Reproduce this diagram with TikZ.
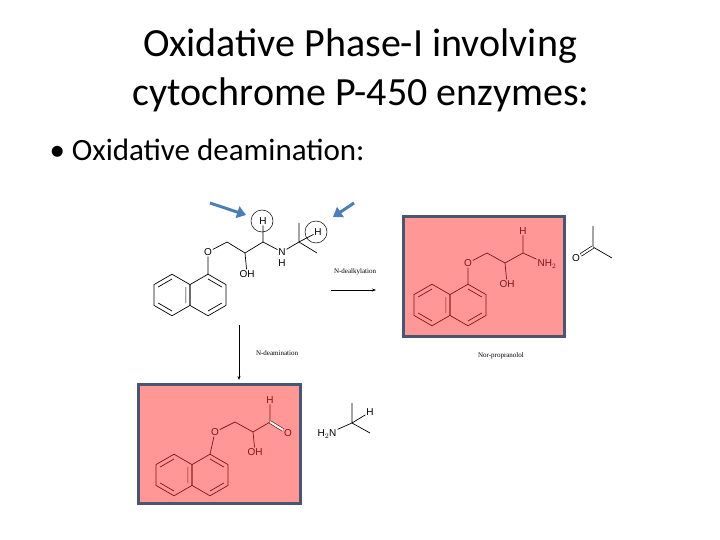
\documentclass[tikz,border=0pt]{standalone}
\usepackage{fontspec}
\setmainfont{Carlito}
\newfontfamily\molfont{Liberation Sans}
\newfontfamily\labfont{Liberation Serif}
\usetikzlibrary{arrows.meta}
\definecolor{boxfill}{HTML}{FF9797}
\definecolor{boxline}{HTML}{475772}
\definecolor{arrblue}{HTML}{4A7EBB}
\definecolor{molred}{HTML}{7A1818}
\newcommand\naph[3]{%
 \foreach \c in {-18,18}{%
  \draw[bond,shift={({#2+\c},{#3})}] (90:20.8)--(30:20.8)--(-30:20.8)--(-90:20.8)--(-150:20.8)--(150:20.8)--cycle;}
 \draw[bond,shift={({#2-18},{#3})}] (90:16)--(150:16) (-30:16)--(30:16) (-90:16)--(-150:16);
 \draw[bond,shift={({#2+18},{#3})}] (90:16)--(30:16) (-90:16)--(-30:16);
 \coordinate (#1) at ({#2+18},{#3-20.8});}
\begin{document}
\begin{tikzpicture}[x=1pt,y=-1pt,
 bond/.style={line width=0.7pt},
 atom/.style={font=\molfont\fontsize{10}{10}\selectfont,inner sep=0.8pt},
 lab/.style={font=\labfont\fontsize{7}{7}\selectfont,inner sep=0pt},
 pbox/.style={draw=boxline,fill=boxfill,line width=3pt},
 ring/.style={draw,circle,minimum size=22pt,inner sep=0pt,line width=0.5pt},
 barrow/.style={draw=arrblue,line width=3pt,-{Triangle[length=9pt,width=12pt]}}]
\useasboundingbox (0,0) rectangle (720,540);
\node[font=\fontsize{40}{40}\selectfont] (t1) at (360,46) {Oxidative Phase-I involving};
\node[font=\fontsize{40}{40}\selectfont] (t2) at (361,95) {cytochrome P-450 enzymes:};
\node[font=\fontsize{31}{31}\selectfont,anchor=west] (b1) at (46,150) {\textbullet\ Oxidative deamination:};
% molecule 1: propranolol
\naph{r1}{190}{295}
\node[atom] (o1) at (208,252) {O};
\coordinate (c1) at (227,242);
\coordinate (c2) at (245,253);
\node[atom] (oh1) at (247,274) {OH};
\coordinate (c3) at (263,242);
\node[atom] (h1) at (263,221) {H};
\node[atom,align=center] (n1) at (282,252) {N};
\node[atom] (nh1) at (282,263) {H};
\coordinate (c4) at (299,242);
\coordinate (m1) at (299,223);
\coordinate (m2) at (317,253);
\node[atom] (h2) at (318,232) {H};
\draw[bond] (r1)--(o1)--(c1)--(c2)--(c3)--(n1)--(c4)--(m1) (c4)--(m2) (c4)--(h2) (c2)--(oh1) (c3)--(h1);
\node[ring] (rc1) at (262,221) {};
\node[ring] (rc2) at (316,232) {};
\draw[barrow] (210,203)--(246,215);
\draw[barrow] (354,203)--(333,217);
% N-dealkylation
\node[lab] (l1) at (355,272) {N-dealkylation};
\coordinate (a1s) at (331,290); \coordinate (a1e) at (376,290);
\draw[-{Stealth[length=4pt]},line width=0.6pt] (a1s)--(a1e);
% product 1
\node[pbox,minimum width=161pt,minimum height=119pt] (box1) at (483.5,276.5) {};
\begin{scope}[molred,every node/.append style={text=molred}]
\naph{r2}{450}{305}
\node[atom] (o2) at (468,263) {O};
\coordinate (d1) at (487,253);
\coordinate (d2) at (505,263);
\node[atom] (oh2) at (507,284) {OH};
\coordinate (d3) at (523,253);
\node[atom] (h3) at (523,231) {H};
\node[atom] (nh2) at (547,264) {NH$_2$};
\draw[bond] (r2)--(o2)--(d1)--(d2)--(d3)--(nh2) (d2)--(oh2) (d3)--(h3);
\end{scope}
% acetone
\coordinate (k1) at (593,247);
\coordinate (k2) at (593,226);
\coordinate (k3) at (612,258);
\node[atom] (ko) at (576,258) {O};
\draw[bond] (k1)--(k2) (k1)--(k3);
\draw[bond,double,double distance=2pt] (k1)--(ko);
\node[lab] (l2) at (501,356) {Nor-propranolol};
% N-deamination
\coordinate (a2s) at (239,325); \coordinate (a2e) at (239,380);
\draw[-{Stealth[length=4pt]},line width=0.6pt] (a2s)--(a2e);
\node[lab] (l3) at (277,353) {N-deamination};
% product 2
\node[pbox,minimum width=162pt,minimum height=119pt] (box2) at (219.5,444) {};
\begin{scope}[molred,every node/.append style={text=molred}]
\naph{r3}{192}{475}
\node[atom] (o3) at (215,432) {O};
\coordinate (e1) at (235,422);
\coordinate (e2) at (253,432);
\node[atom] (oh3) at (255,452) {OH};
\coordinate (e3) at (270,422);
\node[atom] (h4) at (270,400) {H};
\node[atom] (o4) at (288,433) {O};
\draw[bond] (r3)--(o3)--(e1)--(e2)--(e3) (e2)--(oh3) (e3)--(h4);
\draw[bond,double,double distance=2pt] (e3)--(o4);
\end{scope}
% amine
\coordinate (f1) at (352,423);
\coordinate (f2) at (352,403);
\coordinate (f3) at (370,433);
\node[atom] (fh) at (370,412) {H};
\node[atom] (fn) at (327,434) {H$_2$N};
\draw[bond] (fn)--(f1)--(f2) (f1)--(f3) (f1)--(fh);
\end{tikzpicture}
\end{document}
